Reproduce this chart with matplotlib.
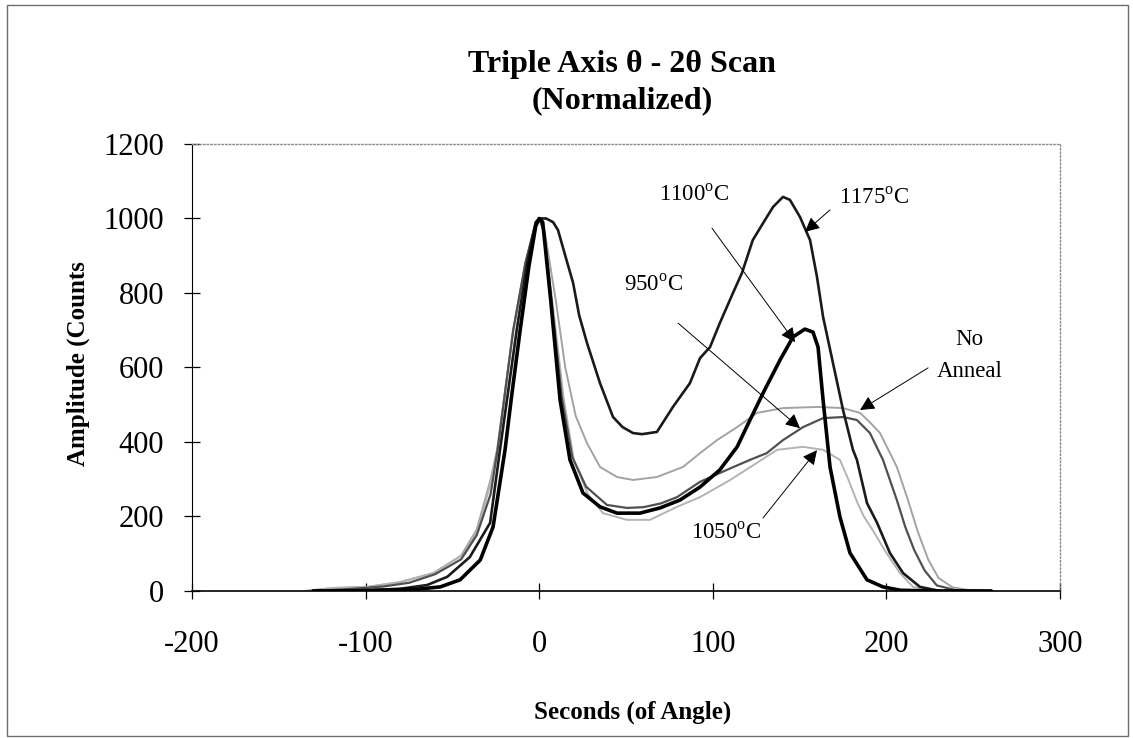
import matplotlib
matplotlib.use("Agg")
import matplotlib.pyplot as plt
from matplotlib.patches import Rectangle

plt.rcParams['font.family'] = ['Liberation Serif', 'DejaVu Serif']
plt.rcParams['mathtext.fontset'] = 'custom'
plt.rcParams['mathtext.rm'] = 'Liberation Serif'
plt.rcParams['axes.unicode_minus'] = False

x_1100 = [-130, -100, -85, -70, -57, -45.6, -34, -26.6, -19.7, -16, -11, -6, -2, 0, 2, 6.6, 12, 17.7,
          25.2, 35, 44.8, 58, 69.6, 81, 92.6, 104, 114, 121.4, 129, 138.7, 146.2, 153, 157.7, 160.6,
          163.5, 167.5, 173.2, 179, 188.8, 198, 208, 225, 260]
y_1100 = [0, 1, 3, 5, 11, 30, 83, 172, 379, 520, 700, 870, 980, 1000, 990, 781, 513, 352,
          263, 226, 209, 209, 223, 244, 279, 325, 387, 459, 532, 620, 682, 703, 695, 655,
          513, 333, 199, 102, 30, 11, 2, 0, 0]

x_1175 = [-130, -100, -80, -64.6, -53, -40, -28.3, -22.6, -13, -7, -2, 0, 4, 8, 10.8, 15, 19.5, 23,
          27.5, 35, 42.5, 48, 54, 59.2, 67.8, 77, 86.8, 92.6, 98.4, 104, 111.6, 116.8, 123, 129,
          134.7, 140.4, 144.4, 150.2, 156, 160, 163.5, 169.2, 175, 180.7, 183, 188.8, 194.6, 202,
          209.6, 219.3, 231, 260]
y_1175 = [0, 2, 6, 16, 38, 91, 183, 379, 700, 880, 990, 1000, 1000, 990, 969, 900, 827, 740,
          666, 558, 467, 440, 424, 421, 427, 494, 558, 625, 655, 719, 800, 854, 942, 988,
          1031, 1058, 1050, 1004, 942, 843, 736, 612, 486, 379, 352, 236, 183, 102,
          48, 11, 0, 0]

x_950 = [-130, -110, -90, -75, -60, -45, -36, -28, -24, -15, -8, -2, 0, 3, 7, 13, 19, 27, 39, 50.5,
         60, 70, 79.4, 92.6, 108, 121.4, 131, 140.4, 152, 163.5, 175, 183, 190.5, 198, 206, 211,
         216, 222, 229, 240, 260]
y_950 = [0, 5, 12, 22, 45, 85, 150, 260, 379, 700, 880, 990, 1000, 960, 781, 520, 360, 280, 231, 223,
         225, 235, 252, 293, 325, 352, 370, 405, 440, 464, 467, 459, 424, 352, 244, 170,
         110, 55, 15, 2, 0]

x_none = [-135, -119, -99, -80, -61, -45, -36, -28, -24.3, -15, -8, -2, 0, 3, 9.5, 15, 21, 27.5, 35,
          44.8, 54, 67.8, 82.8, 92.6, 102.4, 114, 125.4, 140.4, 160, 175, 184.8, 190, 196.3, 206,
          212, 218, 224, 230, 238, 248, 262]
y_none = [0, 8, 11, 24, 48, 95, 165, 300, 379, 700, 880, 990, 1000, 970, 781, 600, 470, 397, 333,
          306, 298, 306, 333, 370, 405, 440, 478, 491, 494, 491, 478, 455, 424, 333,
          250, 160, 85, 35, 10, 2, 0]

x_1050 = [-135, -119, -99, -80, -61, -43, -35, -28, -24, -15, -8, -2, 0, 3, 7.5, 14, 20, 28, 36.7,
          50.5, 63.8, 79.4, 92.6, 110, 125.4, 137, 152, 163.5, 173.2, 178, 183, 187, 192, 200,
          207.8, 215.3, 225, 240]
y_1050 = [0, 8, 11, 24, 48, 100, 170, 290, 379, 700, 880, 990, 1000, 960, 781, 520, 350, 260, 209,
          191, 191, 226, 252, 298, 344, 379, 387, 379, 352, 300, 240, 200, 164, 102,
          48, 11, 2, 0]

x_ticks = [-200, -100, 0, 100, 200, 300]
y_ticks = [0, 200, 400, 600, 800, 1000, 1200]

fig = plt.figure(figsize=(11.33, 7.38), dpi=100)
ax = fig.add_axes([0.1695, 0.1992, 0.7661, 0.6057])

ax.plot(x_none, y_none, color='#a3a3a3', lw=1.4)
ax.plot(x_1050, y_1050, color='#b3b3b3', lw=1.4)
ax.plot(x_950, y_950, color='#505050', lw=1.6)
ax.plot(x_1175, y_1175, color='#1a1a1a', lw=1.9)
ax.plot(x_1100, y_1100, color='#000000', lw=2.6)

ax.set_xlim(-200, 300)
ax.set_ylim(0, 1200)
ax.set_xticks(x_ticks)
ax.set_yticks(y_ticks)
ax.tick_params(axis='both', direction='inout', length=12, width=0.9, labelsize=22)
ax.tick_params(axis='x', pad=22)
ax.tick_params(axis='y', pad=14)

ax.spines['left'].set_color('black')
ax.spines['bottom'].set_color('black')
ax.spines['bottom'].set_linewidth(1.2)
for side in ['top', 'right']:
    ax.spines[side].set_color('#8a8a8a')
    ax.spines[side].set_linestyle(':')
    ax.spines[side].set_linewidth(1.0)

# labels with arrows
arrow = dict(arrowstyle='-|>', color='black', lw=0.7, mutation_scale=22, shrinkA=0, shrinkB=0)
ax.annotate('', xy=(147.4, 668), xytext=(99.5, 974), arrowprops=arrow)
ax.annotate('', xy=(150.2, 437), xytext=(80, 719), arrowprops=arrow)
ax.annotate('', xy=(153.1, 964), xytext=(167.5, 1023), arrowprops=arrow)
ax.annotate('', xy=(184.8, 486), xytext=(224, 599), arrowprops=arrow)
ax.annotate('', xy=(160, 378), xytext=(128.9, 196), arrowprops=arrow)

lab = dict(fontsize=16.5, ha='center', va='center')
ax.text(89.2, 1063, r'1100$^{\mathrm{o}}$C', **lab)
ax.text(65.6, 821, r'950$^{\mathrm{o}}$C', **lab)
ax.text(192.9, 1055, r'1175$^{\mathrm{o}}$C', **lab)
ax.text(248, 674, 'No', **lab)
ax.text(248, 588, 'Anneal', **lab)
ax.text(107.6, 156, r'1050$^{\mathrm{o}}$C', **lab)

fig.text(0.549, 0.913, 'Triple Axis θ - 2θ Scan', ha='center', va='center',
         fontsize=23, fontweight='bold')
fig.text(0.549, 0.864, '(Normalized)', ha='center', va='center',
         fontsize=23, fontweight='bold')
fig.text(0.069, 0.507, 'Amplitude (Counts', rotation=90, ha='center', va='center',
         fontsize=18, fontweight='bold')
fig.text(0.558, 0.035, 'Seconds (of Angle)', ha='center', va='center',
         fontsize=18, fontweight='bold')

# thin frame round the whole chart
fig.patches.append(Rectangle((0.006, 0.003), 0.99, 0.99, transform=fig.transFigure,
                             fill=False, edgecolor='#6e6e6e', lw=1.0))

fig.savefig('out.png', dpi=100)
